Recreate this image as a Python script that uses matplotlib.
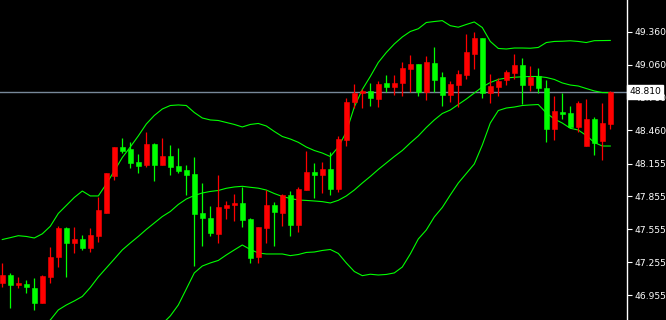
import numpy as np
import matplotlib
matplotlib.use("Agg")
import matplotlib.pyplot as plt

opens = [47.062, 47.138, 47.047, 47.056, 47.017, 46.880, 47.123, 47.300, 47.567, 47.433,
         47.467, 47.388, 47.497, 47.707, 48.042, 48.307, 48.286, 48.170, 48.143, 48.334,
         48.143, 48.225, 48.134, 48.097, 48.061, 47.702, 47.659, 47.513, 47.753, 47.780,
         47.793, 47.647, 47.305, 47.570, 47.775, 47.707, 47.866, 47.595, 47.914, 48.079,
         48.051, 48.106, 47.924, 48.371, 48.721, 48.797, 48.816, 48.745, 48.891, 48.858,
         48.889, 49.019, 49.065, 48.812, 49.071, 48.944, 48.782, 48.873, 48.965, 49.156,
         49.305, 48.797, 48.858, 48.919, 48.986, 49.056, 48.873, 48.956, 48.843, 48.474,
         48.627, 48.615, 48.487, 48.316, 48.560, 48.362, 48.517]
closes = [47.138, 47.047, 47.068, 47.031, 46.880, 47.129, 47.305, 47.565, 47.433, 47.467,
          47.388, 47.503, 47.732, 48.067, 48.310, 48.271, 48.164, 48.136, 48.334, 48.143,
          48.225, 48.127, 48.088, 48.051, 47.695, 47.661, 47.519, 47.756, 47.777, 47.799,
          47.641, 47.296, 47.574, 47.775, 47.716, 47.872, 47.595, 47.921, 48.079, 48.051,
          48.106, 47.924, 48.380, 48.721, 48.803, 48.819, 48.757, 48.882, 48.858, 48.891,
          49.026, 49.065, 48.807, 49.083, 48.919, 48.782, 48.880, 48.974, 49.175, 49.300,
          48.797, 48.864, 48.913, 48.989, 49.056, 48.873, 48.949, 48.849, 48.474, 48.639,
          48.609, 48.487, 48.706, 48.563, 48.341, 48.524, 48.810]
highs = [47.248, 47.154, 47.123, 47.093, 47.108, 47.138, 47.397, 47.586, 47.574, 47.574,
         47.503, 47.570, 47.848, 48.070, 48.310, 48.392, 48.350, 48.243, 48.444, 48.341,
         48.392, 48.325, 48.295, 48.143, 48.219, 47.981, 47.768, 48.051, 47.814, 47.878,
         47.945, 47.656, 47.574, 47.914, 47.805, 47.878, 47.903, 47.939, 48.271, 48.161,
         48.173, 48.264, 48.407, 48.752, 48.882, 48.834, 48.894, 48.913, 48.965, 48.965,
         49.086, 49.147, 49.065, 49.138, 49.217, 48.989, 48.910, 49.010, 49.339, 49.355,
         49.305, 48.974, 48.934, 49.010, 49.156, 49.123, 49.047, 49.026, 48.919, 48.773,
         48.803, 48.681, 48.727, 48.745, 48.584, 48.706, 48.818]
lows = [47.029, 46.834, 47.017, 46.977, 46.819, 46.880, 47.062, 47.214, 47.123, 47.342,
        47.366, 47.351, 47.442, 47.705, 48.006, 48.250, 48.118, 48.072, 48.127, 47.999,
        48.143, 48.051, 48.072, 47.869, 47.220, 47.403, 47.494, 47.428, 47.647, 47.634,
        47.579, 47.245, 47.250, 47.433, 47.406, 47.588, 47.497, 47.534, 47.914, 47.839,
        47.884, 47.869, 47.899, 48.319, 48.660, 48.660, 48.684, 48.675, 48.812, 48.782,
        48.776, 48.812, 48.773, 48.736, 48.807, 48.681, 48.721, 48.670, 48.928, 49.019,
        48.757, 48.712, 48.773, 48.873, 48.925, 48.700, 48.821, 48.803, 48.355, 48.371,
        48.560, 48.478, 48.447, 48.316, 48.234, 48.188, 48.469]

band_upper = [47.462, 47.479, 47.497, 47.490, 47.476, 47.514, 47.583, 47.700, 47.773, 47.846,
              47.905, 47.860, 47.860, 47.969, 48.088, 48.211, 48.307, 48.408, 48.517, 48.595,
              48.654, 48.686, 48.691, 48.686, 48.622, 48.572, 48.554, 48.549, 48.531, 48.513,
              48.490, 48.513, 48.522, 48.499, 48.449, 48.403, 48.380, 48.350, 48.307, 48.275,
              48.252, 48.220, 48.307, 48.444, 48.672, 48.832, 48.951, 49.079, 49.170, 49.248,
              49.312, 49.362, 49.387, 49.444, 49.453, 49.461, 49.415, 49.401, 49.426, 49.449,
              49.398, 49.271, 49.207, 49.202, 49.211, 49.211, 49.209, 49.216, 49.261, 49.271,
              49.273, 49.277, 49.271, 49.261, 49.278, 49.279, 49.280]
band_middle = [46.408, 46.453, 46.508, 46.563, 46.618, 46.672, 46.727, 46.819, 46.864, 46.901,
               46.942, 47.024, 47.120, 47.202, 47.284, 47.367, 47.430, 47.490, 47.554, 47.613,
               47.672, 47.718, 47.782, 47.832, 47.864, 47.887, 47.901, 47.910, 47.930, 47.942,
               47.948, 47.939, 47.931, 47.914, 47.882, 47.855, 47.837, 47.823, 47.819, 47.814,
               47.808, 47.796, 47.820, 47.860, 47.914, 47.978, 48.038, 48.102, 48.161, 48.220,
               48.275, 48.344, 48.408, 48.485, 48.554, 48.613, 48.645, 48.695, 48.745, 48.800,
               48.855, 48.896, 48.924, 48.937, 48.944, 48.948, 48.951, 48.951, 48.942, 48.924,
               48.892, 48.873, 48.864, 48.841, 48.819, 48.804, 48.803]
band_lower = [45.358, 45.431, 45.522, 45.631, 45.759, 45.832, 45.869, 45.942, 45.960, 45.960,
              45.978, 46.189, 46.380, 46.435, 46.481, 46.526, 46.554, 46.572, 46.590, 46.636,
              46.691, 46.764, 46.864, 47.010, 47.157, 47.220, 47.248, 47.271, 47.321, 47.367,
              47.412, 47.371, 47.339, 47.330, 47.330, 47.330, 47.315, 47.325, 47.344, 47.348,
              47.362, 47.371, 47.335, 47.248, 47.170, 47.132, 47.145, 47.138, 47.143, 47.157,
              47.211, 47.330, 47.467, 47.549, 47.668, 47.755, 47.869, 47.978, 48.065, 48.152,
              48.325, 48.526, 48.640, 48.663, 48.672, 48.686, 48.691, 48.695, 48.618, 48.563,
              48.526, 48.478, 48.462, 48.412, 48.348, 48.316, 48.316]

ytick_values = [49.360, 49.060, 48.760, 48.460, 48.155, 47.855, 47.555, 47.255, 46.955]
ytick_labels = ["49.360", "49.060", "48.760", "48.460", "48.155", "47.855", "47.555", "47.255", "46.955"]
current_price = 48.810
current_label = "48.810"

UP = "#ff0000"
DOWN = "#00ff00"
BAND = "#00ff00"
W, H = 666, 320
plot_w = 627

fig = plt.figure(figsize=(W / 100, H / 100), dpi=100, facecolor="black")
ax = fig.add_axes([0, 0, plot_w / W, 1])
ax.set_facecolor("black")

x = np.arange(len(opens))
o = np.array(opens); c = np.array(closes)
h = np.array(highs); l = np.array(lows)
cols = [UP if cc >= oo else DOWN for oo, cc in zip(o, c)]

# Bollinger bands
for band in (band_upper, band_middle, band_lower):
    ax.plot(x, band, color=BAND, lw=0.8, zorder=2)

# current price line
ax.axhline(current_price, color="#778899", lw=1.0, zorder=1)

# wicks
ax.vlines(x, l, h, colors=cols, lw=0.9, zorder=3)
# bodies
bottoms = np.minimum(o, c)
heights = np.maximum(np.abs(c - o), 0.012)
ax.bar(x, heights, bottom=bottoms, width=0.68, color=cols, edgecolor=cols,
       linewidth=0.4, zorder=4)

# axes limits: candle pitch 8 px, first candle centre at 2.3 px
ax.set_xlim(-2.3 / 8, (plot_w - 2.3) / 8)
ax.set_ylim(46.727, 49.6495)

for s in ("top", "bottom", "left"):
    ax.spines[s].set_visible(False)
ax.spines["right"].set_color("white")
ax.spines["right"].set_linewidth(1.0)
ax.set_xticks([])
ax.yaxis.tick_right()
ax.set_yticks(ytick_values)
ax.set_yticklabels(ytick_labels)
ax.tick_params(axis="y", colors="white", length=3.5, width=0.8, pad=2,
               labelsize=6.6, labelcolor="white")

fig.text((plot_w + 2) / W, (current_price - 46.727) / (49.6495 - 46.727), current_label,
         ha="left", va="center", fontsize=6.6, color="black", zorder=10,
         bbox=dict(boxstyle="square,pad=0.25", facecolor="white", edgecolor="white"))

fig.savefig("out.png", dpi=100, facecolor="black")
